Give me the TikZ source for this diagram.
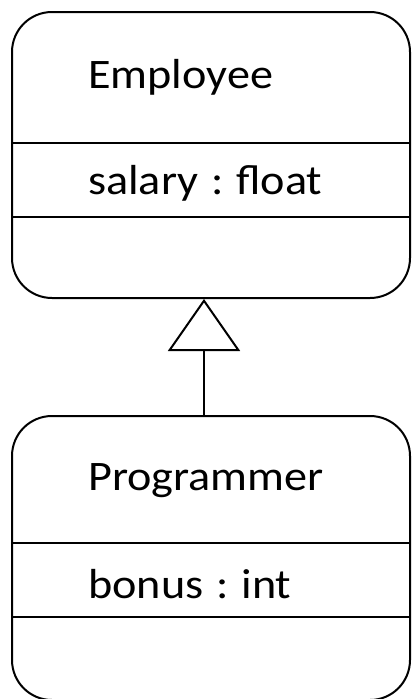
\documentclass[tikz,border=0pt]{standalone}
\usepackage{fontspec}
\setmainfont{Carlito}
\usepackage{tikz}
\usetikzlibrary{arrows.meta, positioning}

\tikzset{
  umlclass/.style={draw, line width=2pt, rounded corners=40pt, inner sep=0pt,
    minimum width=398pt},
  umltext/.style={anchor=base west, inner sep=0pt, xscale=1.1,
    font=\fontsize{42}{50}\selectfont},
  compline/.style={line width=2pt}
}

\begin{document}
\begin{tikzpicture}[x=1pt, y=-1pt]

\useasboundingbox (0,0) rectangle (412,699);

% Classes
\node[umlclass, minimum height=286pt] (emp) at (211,155) {};
\node[umlclass, minimum height=284pt, below=116pt of emp] (prog) {};

% Employee
\node[umltext] (empname) at (88,88) {Employee};
\draw[compline] (emp.west |- 0,143) -- (emp.east |- 0,143);
\node[umltext] (empattr) at (88,194) {salary\;:\;float};
\draw[compline] (emp.west |- 0,217) -- (emp.east |- 0,217);

% Programmer
\node[umltext] (progname) at (88,490) {Programmer};
\draw[compline] (prog.west |- 0,543) -- (prog.east |- 0,543);
\node[umltext] (progattr) at (88,598) {bonus\;:\;int};
\draw[compline] (prog.west |- 0,617) -- (prog.east |- 0,617);

% Generalization
\draw[line width=2pt, -{Triangle[open, length=52pt, width=72pt]}]
  ([xshift=-7pt]prog.north) -- ([xshift=-7pt]emp.south);

\end{tikzpicture}
\end{document}
